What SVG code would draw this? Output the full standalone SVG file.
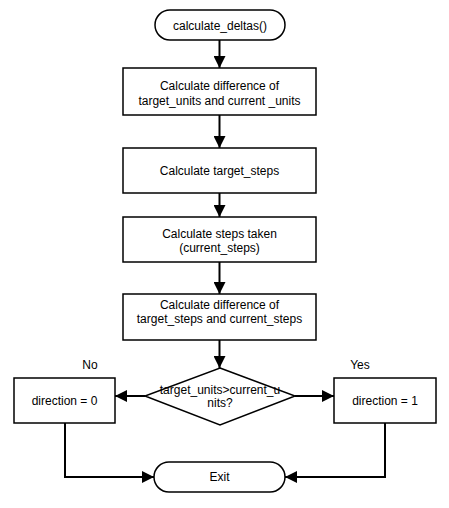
<svg xmlns="http://www.w3.org/2000/svg" width="449" height="508" viewBox="0 0 449 508">
<style>
.n{fill:#fff;stroke:#000;stroke-width:1.5}
.c{fill:none;stroke:#000;stroke-width:2}
text{font-family:"Liberation Sans",Arial,sans-serif;font-size:12px;fill:#000;text-anchor:middle}
</style>
<defs>
<marker id="a" markerUnits="userSpaceOnUse" markerWidth="12" markerHeight="12" viewBox="0 0 12 12" refX="12" refY="6" orient="auto">
<path d="M0,0 L12,6 L0,12 Z" fill="#000"/>
</marker>
</defs>
<rect width="449" height="508" fill="#fff"/>
<g id="connectors">
<path class="c" d="M219.5,40 V68" marker-end="url(#a)"/>
<path class="c" d="M219.5,115 V148" marker-end="url(#a)"/>
<path class="c" d="M219.5,193 V217" marker-end="url(#a)"/>
<path class="c" d="M219.5,262 V294" marker-end="url(#a)"/>
<path class="c" d="M219.5,340 V368" marker-end="url(#a)"/>
<path class="c" d="M145,396 H115" marker-end="url(#a)"/>
<path class="c" d="M295,396 H334" marker-end="url(#a)"/>
<path class="c" d="M65,423 V477 H154" marker-end="url(#a)"/>
<path class="c" d="M385,423 V477 H285" marker-end="url(#a)"/>
<text x="90" y="369">No</text>
<text x="360" y="369">Yes</text>
</g>
<g id="start">
<rect class="n" x="155" y="10" width="130" height="30" rx="15"/>
<text x="220" y="30">calculate_deltas()</text>
</g>
<g id="diffUnits">
<rect class="n" x="123" y="68" width="193" height="47"/>
<text x="219.5" y="90">Calculate difference of</text>
<text x="219.5" y="105">target_units and current _units</text>
</g>
<g id="targetSteps">
<rect class="n" x="123" y="148" width="193" height="45"/>
<text x="219.5" y="175">Calculate target_steps</text>
</g>
<g id="stepsTaken">
<rect class="n" x="123" y="217" width="193" height="45"/>
<text x="219.5" y="238">Calculate steps taken</text>
<text x="219.5" y="252">(current_steps)</text>
</g>
<g id="diffSteps">
<rect class="n" x="123" y="294" width="193" height="46"/>
<text x="219.5" y="309">Calculate difference of</text>
<text x="219.5" y="323">target_steps and current_steps</text>
</g>
<g id="decision">
<path class="n" d="M220,368 L295,396 L220,425 L145,396 Z"/>
<text x="220" y="394">target_units&gt;current_u</text>
<text x="220" y="407">nits?</text>
</g>
<g id="dir0">
<rect class="n" x="14" y="378" width="101" height="45"/>
<text x="64.5" y="405">direction = 0</text>
</g>
<g id="dir1">
<rect class="n" x="334" y="378" width="102" height="45"/>
<text x="385" y="405">direction = 1</text>
</g>
<g id="exit">
<rect class="n" x="154" y="462" width="131" height="30" rx="15"/>
<text x="219.5" y="481">Exit</text>
</g>
</svg>
